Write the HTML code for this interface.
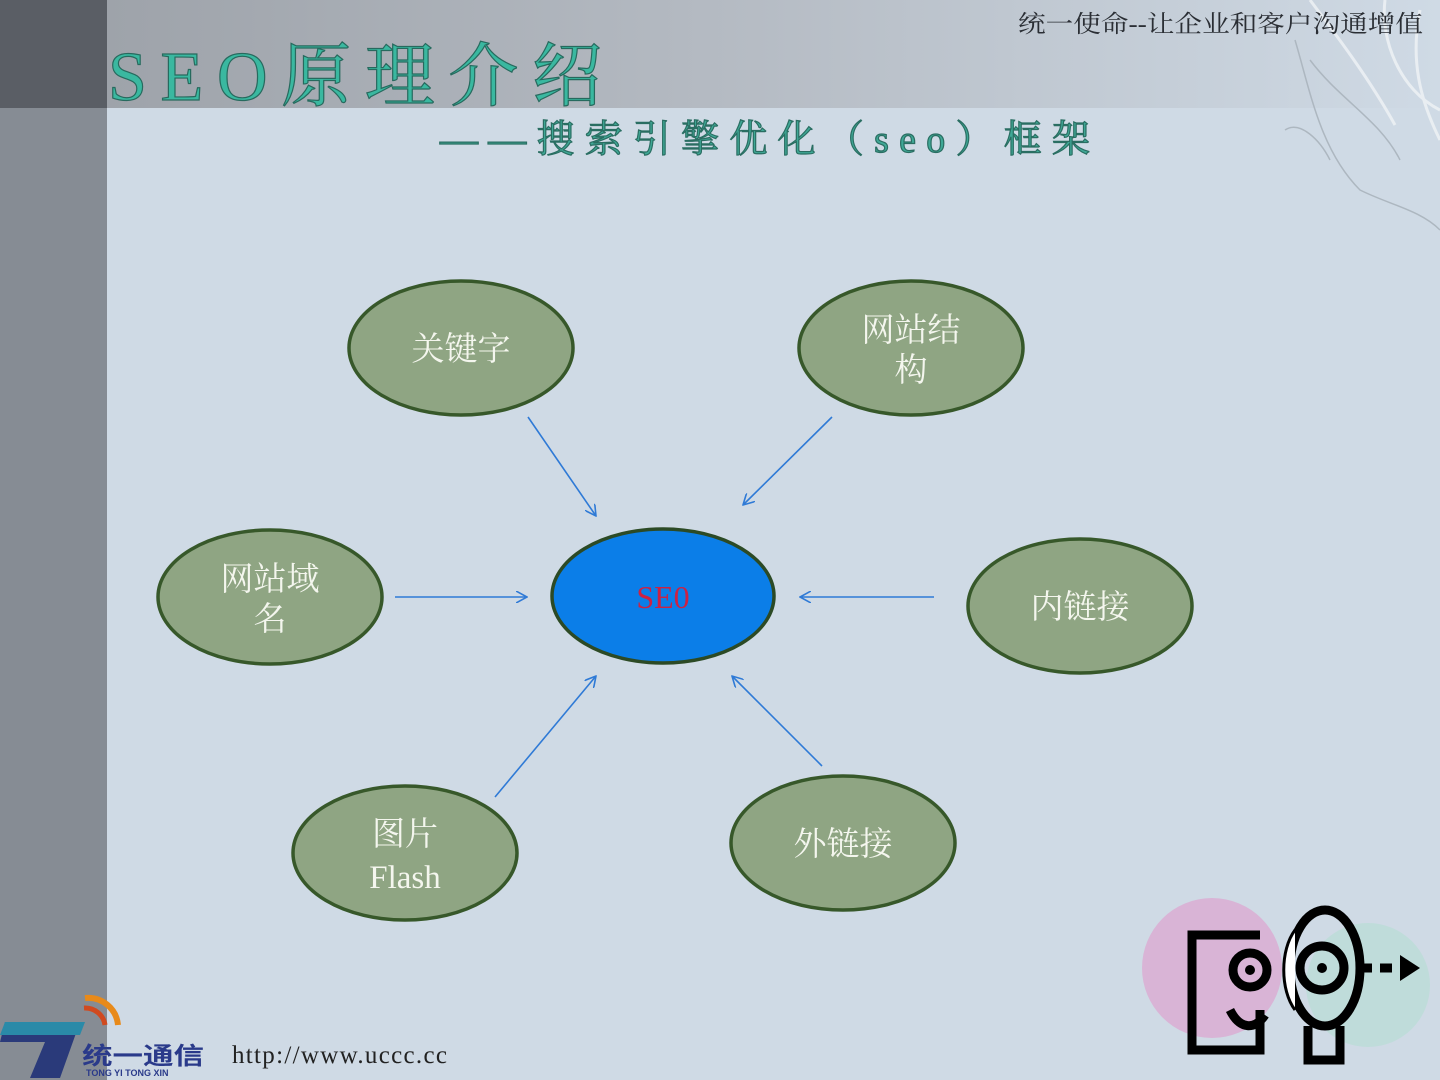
<!DOCTYPE html>
<html><head><meta charset="utf-8"><style>
html,body{margin:0;padding:0;}
body{width:1440px;height:1080px;overflow:hidden;background:#cfdae5;position:relative;font-family:"Liberation Serif","Noto Serif CJK SC",serif;}
</style></head><body>
<svg width="1440" height="1080" xmlns="http://www.w3.org/2000/svg" style="position:absolute;left:0;top:0">
<defs>
<linearGradient id="top" x1="0" x2="1" y1="0" y2="0">
<stop offset="0" stop-color="#9ea3aa"/><stop offset="0.45" stop-color="#b4bac2"/><stop offset="1" stop-color="#cfdae5"/>
</linearGradient>
<marker id="ar" viewBox="0 0 12 12" refX="11" refY="6" markerWidth="12" markerHeight="12" markerUnits="userSpaceOnUse" orient="auto">
<path d="M0,0 L11,6 L0,12" fill="none" stroke="#2f7ad6" stroke-width="1.6"/>
</marker>
</defs>
<rect x="0" y="0" width="1440" height="1080" fill="#cfdae5"/>
<rect x="107" y="0" width="1333" height="108" fill="url(#top)"/>
<rect x="0" y="0" width="107" height="1080" fill="#868c94"/>
<rect x="0" y="0" width="107" height="108" fill="#5a5e65"/>
<g fill="none" stroke="#eef2f5" stroke-width="3" opacity="0.85">
<path d="M1310,0 C1340,40 1370,80 1395,125"/>
<path d="M1385,0 C1380,40 1400,90 1440,110"/>
<path d="M1420,10 C1410,60 1420,100 1440,140"/>
</g>
<g fill="none" stroke="#aab4bd" stroke-width="1.5" opacity="0.9">
<path d="M1295,40 C1310,90 1320,150 1360,190 C1390,205 1420,210 1440,230"/>
<path d="M1310,60 C1340,100 1380,120 1400,160"/>
<path d="M1285,130 C1300,120 1320,140 1330,160"/>
</g>
<text x="108" y="100" font-family="Liberation Serif,'Noto Serif CJK SC',serif" font-size="70" fill="#3ab8a0" stroke="#276a5e" stroke-width="1.2" textLength="494" lengthAdjust="spacing">SEO原理介绍</text>
<text x="440" y="152" font-family="Liberation Serif,'Noto Serif CJK SC',serif" font-size="38" fill="#3fa896" stroke="#2a6e62" stroke-width="1.2" textLength="650" lengthAdjust="spacing">——搜索引擎优化（seo）框架</text>
<text x="1018" y="32" font-family="Liberation Serif,'Noto Serif CJK SC',serif" font-size="24" fill="#2a2e34" textLength="405" lengthAdjust="spacingAndGlyphs">统一使命--让企业和客户沟通增值</text>

<g stroke="#2f7ad6" stroke-width="1.6" marker-end="url(#ar)">
<line x1="528" y1="417" x2="596" y2="516"/>
<line x1="832" y1="417" x2="743" y2="505"/>
<line x1="395" y1="597" x2="527" y2="597"/>
<line x1="934" y1="597" x2="800" y2="597"/>
<line x1="495" y1="797" x2="596" y2="676"/>
<line x1="822" y1="766" x2="732" y2="676"/>
</g>
<g fill="#8fa583" stroke="#37582a" stroke-width="3.5">
<ellipse cx="461" cy="348" rx="112" ry="67"/>
<ellipse cx="911" cy="348" rx="112" ry="67"/>
<ellipse cx="270" cy="597" rx="112" ry="67"/>
<ellipse cx="1080" cy="606" rx="112" ry="67"/>
<ellipse cx="405" cy="853" rx="112" ry="67"/>
<ellipse cx="843" cy="843" rx="112" ry="67"/>
</g>
<ellipse cx="663" cy="596" rx="111" ry="67" fill="#0b7ee8" stroke="#2c4a25" stroke-width="3.5"/>
<g font-family="Liberation Serif,'Noto Serif CJK SC',serif" font-size="33" fill="#f4f6ee" text-anchor="middle">
<text x="461" y="360">关键字</text>
<text x="911" y="341">网站结</text><text x="911" y="381">构</text>
<text x="270" y="590">网站域</text><text x="270" y="630">名</text>
<text x="1080" y="618">内链接</text>
<text x="405" y="845">图片</text><text x="405" y="888">Flash</text>
<text x="843" y="855">外链接</text>
</g>
<text x="663" y="608" font-family="Liberation Serif,serif" font-size="32" fill="#cc2244" text-anchor="middle">SE0</text>

<circle cx="1212" cy="968" r="70" fill="#d9b4d6"/>
<circle cx="1368" cy="985" r="62" fill="#bfdcda"/>
<g fill="none" stroke="#000" stroke-width="9">
<path d="M1260,935 L1192,935 L1192,1050 L1260,1050 L1260,1010"/>
<circle cx="1250" cy="970" r="17"/>
<path d="M1230,1010 C1240,1030 1255,1030 1265,1015"/>
<ellipse cx="1325" cy="968" rx="35" ry="58"/>
<circle cx="1322" cy="968" r="22"/>
<path d="M1308,1026 L1308,1060 L1340,1060 L1340,1026"/>
<path d="M1360,968 L1400,968" stroke-dasharray="12,8"/>
</g>
<path d="M1295,930 C1280,950 1280,990 1295,1010" fill="#fff" stroke="#000" stroke-width="3"/>
<circle cx="1250" cy="970" r="5" fill="#000"/>
<circle cx="1322" cy="968" r="5" fill="#000"/>
<path d="M1400,955 L1420,968 L1400,981 Z" fill="#000"/>

<path d="M5,1022 L80,1022 L60,1078 L30,1078 L45,1042 L0,1042 Z" fill="#2a3a7a"/>
<path d="M5,1022 L85,1022 L80,1035 L0,1035 Z" fill="#2a8aa8"/>
<path d="M85,998 A30,30 0 0 1 118,1025" fill="none" stroke="#e88a1a" stroke-width="6"/>
<path d="M84,1008 A20,20 0 0 1 105,1025" fill="none" stroke="#d04a20" stroke-width="5"/>
<text x="82" y="1064" font-family="Liberation Sans,'Noto Sans CJK SC',sans-serif" font-size="24" font-weight="bold" fill="#2a3a8a" textLength="122" lengthAdjust="spacingAndGlyphs">统一通信</text>
<text x="86" y="1076" font-family="Liberation Sans,sans-serif" font-size="9" font-weight="bold" fill="#2a3a8a">TONG YI TONG XIN</text>
<text x="232" y="1063" font-family="Liberation Serif,serif" font-size="25" fill="#222" textLength="215" lengthAdjust="spacing">http://www.uccc.cc</text>
</svg>
</body></html>
